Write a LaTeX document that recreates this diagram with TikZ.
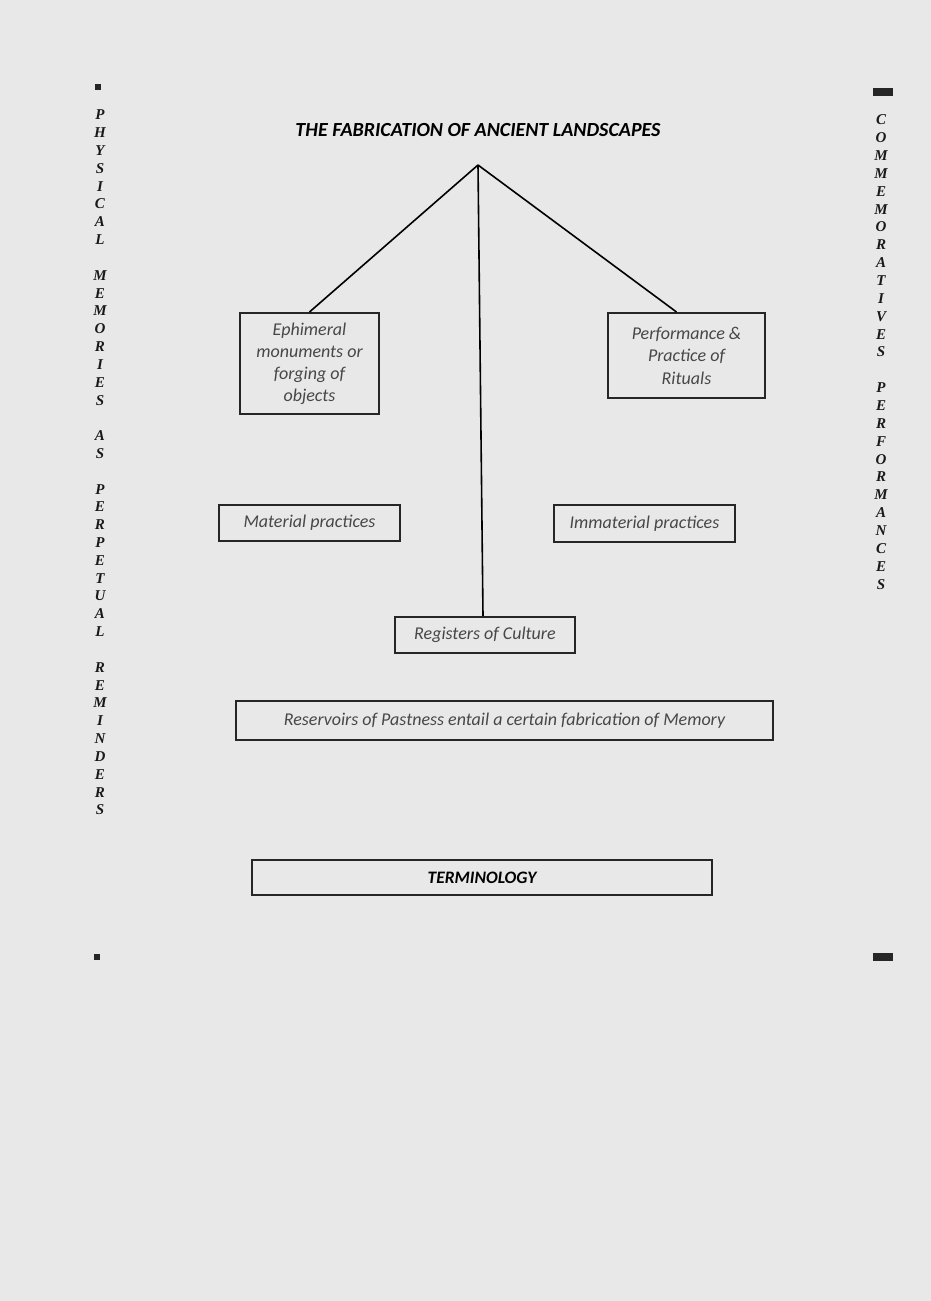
\documentclass[tikz,border=0pt]{standalone}
\usepackage{fontspec}
\setmainfont{Carlito}
\newfontfamily\vserif{Liberation Serif}
\begin{document}
\begin{tikzpicture}[x=1pt,y=-1pt,
  box/.style={draw=black!85,line width=2pt,inner sep=0pt,align=center,text=black!72,
    font=\fontsize{18}{22}\selectfont\itshape},
  link/.style={draw=black,line width=1.6pt},
  vlet/.style={inner sep=0pt,text=black!90,font=\fontsize{15}{15}\selectfont\vserif\bfseries\itshape},
  cornermark/.style={fill=black!85}]
\fill[black!9] (0,0) rectangle (931,1301);
\useasboundingbox (0,0) rectangle (931,1301);

\node[font=\fontsize{20}{24}\selectfont\bfseries\itshape] (title) at (478,130) {THE FABRICATION OF ANCIENT LANDSCAPES};
\coordinate (apex) at (478,165);

\node[box,minimum width=139pt,minimum height=101pt] (eph) at (309.5,363.5) {Ephimeral\\monuments or\\forging of\\objects};
\node[box,minimum width=157pt,minimum height=85pt,font=\fontsize{18}{22.5}\selectfont\itshape] (perf) at (686.5,355.5) {Performance \&\\Practice of\\Rituals};
\node[box,minimum width=181pt,minimum height=36pt] (mat) at (309.5,523) {Material practices};
\node[box,minimum width=181pt,minimum height=37pt] (immat) at (644.5,523.5) {Immaterial practices};
\node[box,minimum width=180pt,minimum height=36pt] (reg) at (485,635) {Registers of Culture};
\node[box,minimum width=537pt,minimum height=39pt] (res) at (504.5,720.5) {Reservoirs of Pastness entail a certain fabrication of Memory};
\node[box,minimum width=460pt,minimum height=35pt,text=black,font=\fontsize{17.5}{20}\selectfont\bfseries\itshape] (term) at (482,877.5) {TERMINOLOGY};

\draw[link] (apex) -- (eph.north);
\draw[link] (apex) -- ([xshift=-10pt]perf.north);
\draw[link] (apex) -- ([xshift=-2pt]reg.north);

% left vertical text
\foreach \l [count=\i from 0] in {P,H,Y,S,I,C,A,L,{ },M,E,M,O,R,I,E,S,{ },A,S,{ },P,E,R,P,E,T,U,A,L,{ },R,E,M,I,N,D,E,R,S}
  \node[vlet] (lv\i) at (100,115+17.82*\i) {\l};
% right vertical text
\foreach \l [count=\i from 0] in {C,O,M,M,E,M,O,R,A,T,I,V,E,S,{ },P,E,R,F,O,R,M,A,N,C,E,S}
  \node[vlet] (rv\i) at (881,120+17.85*\i) {\l};

% corner marks
\fill[cornermark] (95,84) rectangle (101,90);
\fill[cornermark] (94,954) rectangle (100,960);
\fill[cornermark] (873,88) rectangle (893,96);
\fill[cornermark] (873,953) rectangle (893,961);
\end{tikzpicture}
\end{document}
